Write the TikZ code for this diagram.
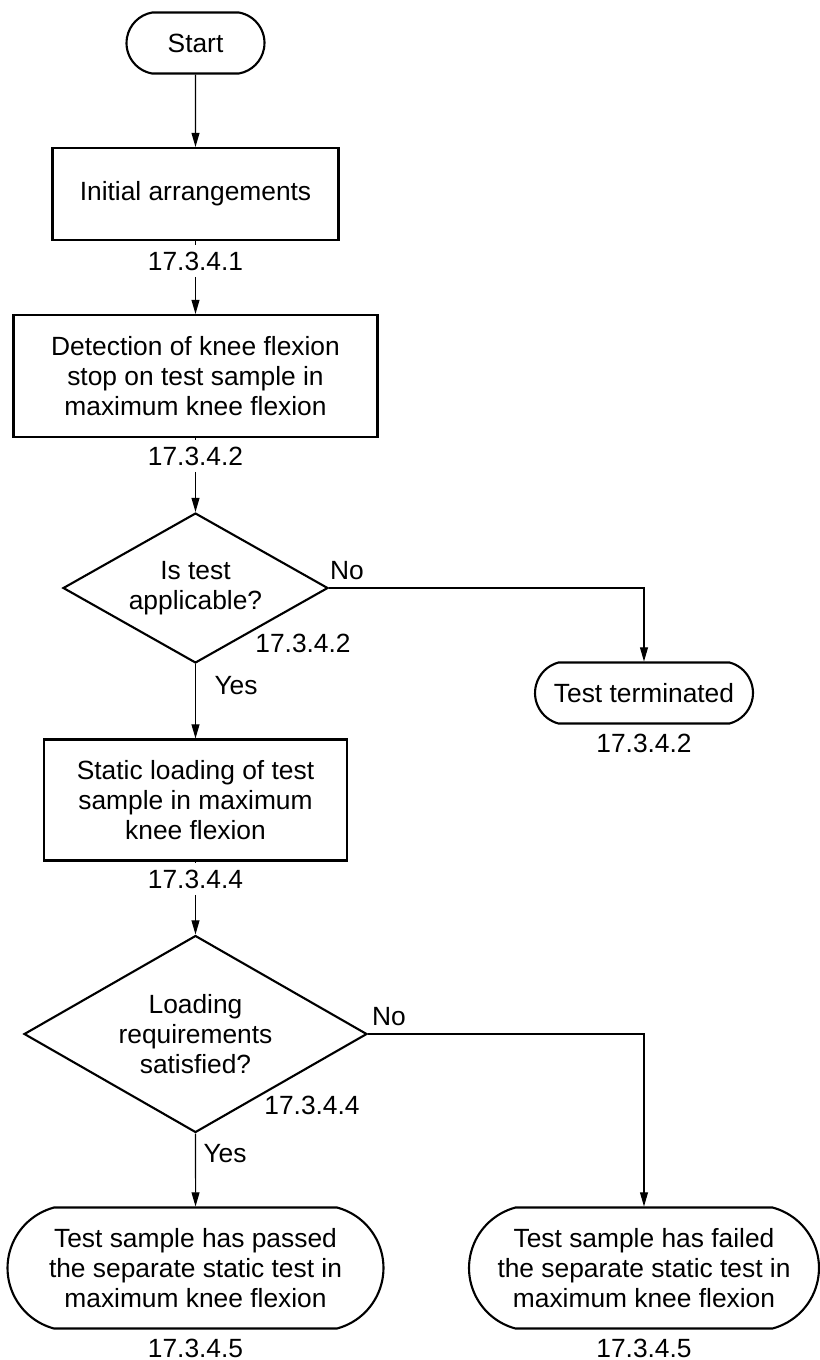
\documentclass[tikz,border=0pt]{standalone}
\usepackage{fontspec}
\setmainfont{Liberation Sans}
\usetikzlibrary{shapes.geometric,shapes.misc,arrows.meta}
\tikzset{
  every node/.style={font=\fontsize{15}{17.2}\selectfont},
  procbox/.style={draw,line width=1.2pt,rectangle,align=center,inner sep=0pt},
  termbox/.style={draw,line width=1.2pt,rounded rectangle,rounded rectangle arc length=150,align=center,inner sep=0pt},
  decbox/.style={draw,line width=1.2pt,diamond,aspect=1.75,align=center,inner sep=0pt},
  reflbl/.style={inner sep=3.5pt},
  flow/.style={line width=0.6pt,-{Triangle[length=8pt,width=4.5pt]}},
  link/.style={line width=0.6pt}
}

\begin{document}
\begin{tikzpicture}[x=0.02cm,y=-0.02cm]
 \useasboundingbox (0,0) rectangle (819,1360);
 \node[termbox,rounded rectangle arc length=160,minimum width=2.76cm,minimum height=1.22cm] (start) at (195.5,43) {Start};
 \node[procbox,minimum width=5.72cm,minimum height=1.84cm] (init) at (195.5,194) {Initial arrangements};
 \node[reflbl] (r1) at (195.5,261) {17.3.4.1};
 \node[procbox,minimum width=7.28cm,minimum height=2.44cm] (detect) at (195.5,376) {Detection of knee flexion\\stop on test sample in\\maximum knee flexion};
 \node[reflbl] (r2) at (195.5,456) {17.3.4.2};
 \node[decbox,minimum width=5.3cm,minimum height=3cm] (appl) at (195.5,588) {Is test\\applicable?};
 \node (no1) at (347,571) {No};
 \node (r3) at (303,643) {17.3.4.2};
 \node (yes1) at (236,686) {Yes};
 \node[termbox,minimum width=4.36cm,minimum height=1.22cm] (term) at (644,693) {Test terminated};
 \node (r4) at (644,743) {17.3.4.2};
 \node[procbox,minimum width=6.06cm,minimum height=2.42cm] (load) at (195.5,800) {Static loading of test\\sample in maximum\\knee flexion};
 \node[reflbl] (r5) at (195.5,879) {17.3.4.4};
 \node[decbox,minimum width=6.86cm,minimum height=3.94cm] (req) at (195.5,1034) {Loading\\requirements\\satisfied?};
 \node (no2) at (389,1017) {No};
 \node (r6) at (312,1105) {17.3.4.4};
 \node (yes2) at (225,1154) {Yes};
 \node[termbox,minimum width=7.52cm,minimum height=2.42cm] (pass) at (195.5,1268) {Test sample has passed\\the separate static test in\\maximum knee flexion};
 \node[termbox,minimum width=7cm,minimum height=2.42cm] (fail) at (644,1268) {Test sample has failed\\the separate static test in\\maximum knee flexion};
 \node (r7) at (195.5,1348) {17.3.4.5};
 \node (r8) at (644,1348) {17.3.4.5};
 \draw[flow] (start) -- (init);
 \draw[link] (init) -- (r1);
 \draw[flow] (r1) -- (detect);
 \draw[link] (detect) -- (r2);
 \draw[flow] (r2) -- (appl);
 \draw[flow] (appl.east) -| (term.north);
 \draw[flow] (appl) -- (load);
 \draw[link] (load) -- (r5);
 \draw[flow] (r5) -- (req);
 \draw[flow] (req.east) -| (fail.north);
 \draw[flow] (req) -- (pass);
\end{tikzpicture}
\end{document}
